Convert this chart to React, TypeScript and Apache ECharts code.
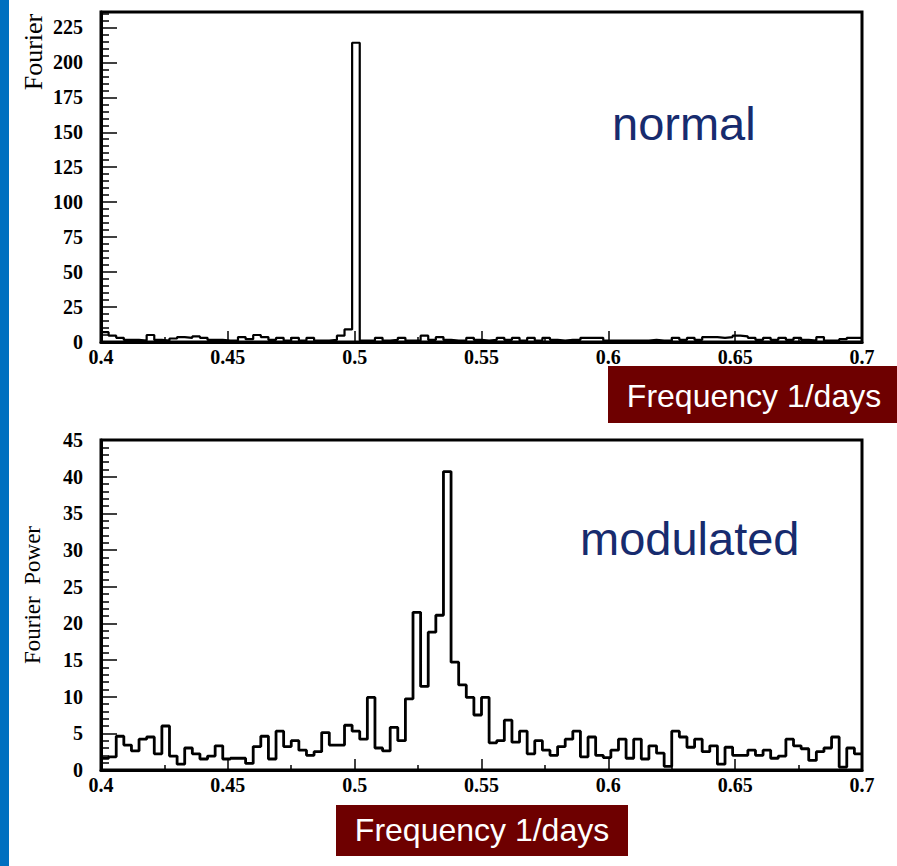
import React, { useEffect, useRef } from "react";
import * as echarts from "echarts";

// Histogram binning (frequency in 1/days)
const X_MIN = 0.4;
const X_MAX = 0.7;
const BIN_WIDTH = 0.003;

// Tick labels
const xTickLabels = ["0.4", "0.45", "0.5", "0.55", "0.6", "0.65", "0.7"];
const topYTickLabels = ["0", "25", "50", "75", "100", "125", "150", "175", "200", "225"];
const bottomYTickLabels = ["0", "5", "10", "15", "20", "25", "30", "35", "40", "45"];

// Top panel ("normal") – Fourier power per bin
const normalPower = [
  7, 4.5, 3, 1.5, 1.5, 1, 5, 1.5, 1, 2.5,
  3.5, 3, 4, 3, 1.5, 1.5, 1, 1, 3.5, 2,
  5, 3.5, 1.5, 3, 1, 3, 1, 3, 1, 1,
  1.5, 4.5, 9, 214, 1, 1, 3, 1, 1.5, 3,
  1, 1, 4.5, 1.5, 3.5, 1.5, 1, 1, 3, 1.5,
  1, 1.5, 3, 1.5, 3, 1, 3, 1, 3, 1.5,
  1, 1.5, 1.5, 3, 3, 3, 1, 1, 1, 1,
  1, 1, 1.5, 1, 1, 3, 1.5, 3, 1.5, 3.5,
  3.5, 3, 3.5, 4.5, 4, 3, 1.5, 3, 1.5, 3,
  1.5, 3, 1.5, 1, 3.5, 1, 1, 2, 3, 3,
];

// Bottom panel ("modulated") – Fourier power per bin
const modulatedPower = [
  1.6, 1.8, 4.6, 3.4, 2.6, 4.2, 4.5, 2.2, 6.0, 1.9,
  0.8, 3.0, 2.2, 1.5, 1.9, 3.3, 1.5, 1.6, 1.6, 0.9,
  3.2, 4.6, 1.5, 5.3, 3.2, 4.0, 2.7, 2.0, 2.5, 5.1,
  3.4, 3.4, 6.1, 5.3, 4.2, 9.9, 3.0, 2.6, 5.8, 4.0,
  9.7, 21.5, 11.4, 18.8, 21.1, 40.7, 14.7, 11.6, 9.9, 7.5,
  9.9, 3.7, 4.0, 6.8, 3.8, 5.3, 2.2, 4.0, 2.7, 2.0,
  3.2, 4.2, 5.3, 1.8, 4.5, 2.0, 1.7, 2.7, 4.2, 1.6,
  4.2, 1.5, 3.3, 2.3, 0.5, 5.3, 4.5, 3.1, 4.2, 2.5,
  3.3, 0.8, 3.1, 2.0, 2.0, 2.7, 2.0, 2.7, 1.6, 1.9,
  4.2, 3.3, 2.9, 1.3, 2.5, 3.0, 4.5, 0.4, 3.0, 2.2,
];

const LABEL_NORMAL = "normal";
const LABEL_MODULATED = "modulated";
const X_TITLE = "Frequency 1/days";
const Y_TITLE_TOP = "Fourier";
const Y_TITLE_BOTTOM = "Fourier  Power";

function toSteps(values: number[]): number[][] {
  const pts = values.map((v, i) => [+(X_MIN + i * BIN_WIDTH).toFixed(4), v]);
  pts.push([X_MAX, values[values.length - 1]]);
  return pts;
}

const serif = "Liberation Serif";
const sans = "'Liberation Sans', Arial, sans-serif";

const tickRich = {
  t: { fontFamily: serif, fontWeight: "bold", fontSize: 20, color: "#000" },
};

function xAxisCfg(gridIndex: number) {
  return {
    type: "value",
    gridIndex,
    min: X_MIN,
    max: X_MAX,
    interval: 0.05,
    axisLine: { show: true, onZero: false, lineStyle: { color: "#000", width: 3 } },
    axisTick: { show: true, inside: true, length: 11, lineStyle: { color: "#000", width: 1.5 } },
    minorTick: { show: true, splitNumber: 2, length: 5, lineStyle: { color: "#000", width: 1.5 } },
    splitLine: { show: false },
    axisLabel: {
      show: true,
      margin: 5,
      color: "#000",
      fontFamily: serif,
      fontWeight: "bold",
      fontSize: 20,
      rich: tickRich,
      formatter: (v: number) => {
        const s = String(+v.toFixed(2));
        return xTickLabels.includes(s) ? `{t|${s}}` : "";
      },
    },
  };
}

function yAxisCfg(gridIndex: number, max: number, interval: number, labels: string[]) {
  return {
    type: "value",
    gridIndex,
    min: 0,
    max,
    interval,
    axisLine: { show: true, lineStyle: { color: "#000", width: 3 } },
    axisTick: { show: true, inside: true, length: 16, lineStyle: { color: "#000", width: 1.5 } },
    minorTick: { show: true, splitNumber: 5, length: 8, lineStyle: { color: "#000", width: 1.5 } },
    splitLine: { show: false },
    axisLabel: {
      show: true,
      margin: 18,
      color: "#000",
      fontFamily: serif,
      fontWeight: "bold",
      fontSize: 20,
      rich: tickRich,
      showMaxLabel: max % interval === 0,
      formatter: (v: number) => {
        const s = String(Math.round(v));
        return Math.abs(v - Math.round(v)) < 1e-6 && labels.includes(s) ? `{t|${s}}` : "";
      },
    },
  };
}

export default function App() {
  const ref = useRef<HTMLDivElement>(null);

  useEffect(() => {
    if (!ref.current) return;
    const chart = echarts.init(ref.current, undefined, { renderer: "svg" });
    const option = {
      animation: false,
      backgroundColor: "#ffffff",
      grid: [
        { left: 101, top: 12, width: 761, height: 330, show: true, borderColor: "#000", borderWidth: 3, backgroundColor: "transparent" },
        { left: 101, top: 440, width: 761, height: 330, show: true, borderColor: "#000", borderWidth: 3, backgroundColor: "transparent" },
      ],
      xAxis: [xAxisCfg(0), xAxisCfg(1)],
      yAxis: [
        yAxisCfg(0, 236, 25, topYTickLabels),
        yAxisCfg(1, 45, 5, bottomYTickLabels),
      ],
      series: [
        {
          type: "line",
          xAxisIndex: 0,
          yAxisIndex: 0,
          step: "end",
          symbol: "none",
          data: toSteps(normalPower),
          lineStyle: { color: "#000", width: 2.2 },
          silent: true,
        },
        {
          type: "line",
          xAxisIndex: 1,
          yAxisIndex: 1,
          step: "end",
          symbol: "none",
          data: toSteps(modulatedPower),
          lineStyle: { color: "#000", width: 2.8 },
          silent: true,
        },
      ],
      graphic: [
        { type: "rect", shape: { x: 0, y: 0, width: 9, height: 866 }, style: { fill: "#0070c0" }, silent: true },
        {
          type: "text",
          x: 33,
          y: 52,
          rotation: Math.PI / 2,
          style: { text: Y_TITLE_TOP, fill: "#000", font: `26px '${serif}', serif`, align: "center", verticalAlign: "middle" },
        },
        {
          type: "text",
          x: 32,
          y: 595,
          rotation: Math.PI / 2,
          style: { text: Y_TITLE_BOTTOM, fill: "#000", font: `23px '${serif}', serif`, align: "center", verticalAlign: "middle" },
        },
        {
          type: "text",
          x: 612,
          y: 123,
          style: { text: LABEL_NORMAL, fill: "#172b6e", font: `47px ${sans}`, align: "left", verticalAlign: "middle" },
        },
        {
          type: "text",
          x: 580,
          y: 538,
          style: { text: LABEL_MODULATED, fill: "#172b6e", font: `47px ${sans}`, align: "left", verticalAlign: "middle" },
        },
        { type: "rect", shape: { x: 608, y: 366, width: 289, height: 57 }, style: { fill: "#6e0000" }, silent: true },
        {
          type: "text",
          x: 754,
          y: 396,
          style: { text: X_TITLE, fill: "#ffffff", font: `32px ${sans}`, align: "center", verticalAlign: "middle" },
        },
        { type: "rect", shape: { x: 336, y: 805, width: 292, height: 51 }, style: { fill: "#6e0000" }, silent: true },
        {
          type: "text",
          x: 482,
          y: 830,
          style: { text: X_TITLE, fill: "#ffffff", font: `32px ${sans}`, align: "center", verticalAlign: "middle" },
        },
      ],
    };
    chart.setOption(option as any);
    return () => chart.dispose();
  }, []);

  return (
    <div
      ref={ref}
      style={{ position: "fixed", left: 0, top: 0, width: 897, height: 866, background: "#fff" }}
    />
  );
}
